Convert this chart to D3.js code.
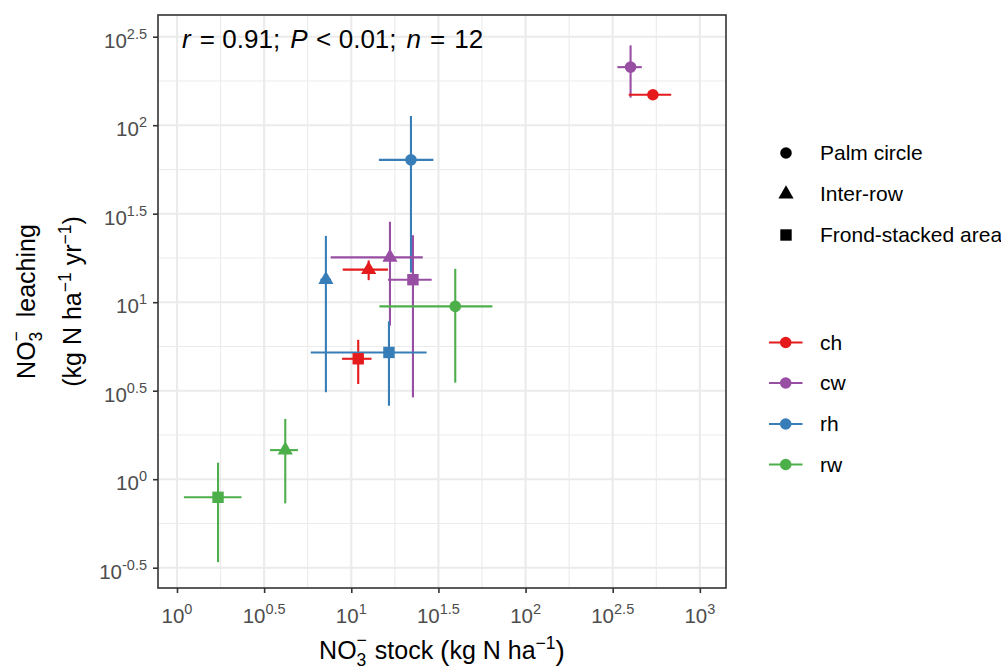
<!DOCTYPE html>
<html>
<head>
<meta charset="utf-8">
<script src="https://cdn.jsdelivr.net/npm/d3@7"></script>
<style>
  body { margin: 0; background: #ffffff; }
  svg { display: block; }
  text { font-family: "Liberation Sans", Arial, sans-serif; white-space: pre; }
</style>
</head>
<body>
<svg id="chart" width="1001" height="669"></svg>
<script>
// Land-use groups and their colours
const landUses = ["ch", "cw", "rh", "rw"];
const landUseColours = ["#E41A1C", "#984EA3", "#377EB8", "#4DAF4A"];

// Sampling positions (marker shapes)
const positions = ["Palm circle", "Inter-row", "Frond-stacked area"];

// One entry per land use x position: mean and standard error
const pointLandUse = ["ch", "cw", "rh", "rw", "ch", "cw", "rh", "rw", "ch", "cw", "rh", "rw"];
const pointPosition = [
  "Palm circle", "Palm circle", "Palm circle", "Palm circle",
  "Inter-row", "Inter-row", "Inter-row", "Inter-row",
  "Frond-stacked area", "Frond-stacked area", "Frond-stacked area", "Frond-stacked area"
];
const stockMean = [537.7, 400.4, 22.0, 39.5, 12.58, 16.67, 7.15, 4.18, 10.96, 22.58, 16.45, 1.72];
const stockSE   = [147, 64, 7.6, 25, 3.65, 9.05, 0.5, 0.76, 2.1, 6.35, 10.6, 0.625];
const leachMean = [148.6, 212.8, 63.7, 9.47, 15.27, 17.92, 13.4, 1.46, 4.79, 13.4, 5.20, 0.79];
const leachSE   = [4, 69.7, 49, 5.96, 1.95, 10.55, 10.3, 0.73, 1.34, 10.5, 2.6, 0.45];

// Axis breaks, written as powers of ten
const xTickExponents = ["0", "0.5", "1", "1.5", "2", "2.5", "3"];
const yTickExponents = ["-0.5", "0", "0.5", "1", "1.5", "2", "2.5"];

// Correlation summary
const statR = "0.91", statP = "0.01", statN = "12";

const svg = d3.select("#chart");
const panel = { left: 158, top: 15, right: 726, bottom: 588 };

const x = d3.scaleLog().domain([Math.pow(10, -0.109), Math.pow(10, 3.15)]).range([panel.left, panel.right]);
const y = d3.scaleLog().domain([Math.pow(10, -0.6147), Math.pow(10, 2.6226)]).range([panel.bottom, panel.top]);

const colour = d3.scaleOrdinal().domain(landUses).range(landUseColours);
const shapeOf = d3.scaleOrdinal().domain(positions).range([d3.symbolCircle, d3.symbolTriangle, d3.symbolSquare]);
const sizeOf = d3.scaleOrdinal().domain(positions).range([105, 100, 130]);

const xMajor = xTickExponents.map(e => Math.pow(10, +e));
const yMajor = yTickExponents.map(e => Math.pow(10, +e));
const midpoints = arr => {
  const out = [];
  for (let i = 0; i < arr.length - 1; i++) out.push(Math.sqrt(arr[i] * arr[i + 1]));
  return out;
};

// Rich text as a single <text> made of positioned tspans (sub/superscripts)
function richText(parent, parts, baseSize, fill) {
  const t = parent.append("text").attr("fill", fill).attr("font-size", baseSize);
  let cx = 0, lastStart = 0;
  parts.forEach(p => {
    const start = p.stack ? lastStart : cx + (p.gap || 0);
    const s = t.append("tspan")
      .attr("x", start)
      .attr("y", p.dy || 0)
      .attr("font-size", p.size || baseSize)
      .text(p.t);
    if (p.italic) s.attr("font-style", "italic");
    const w = s.node().getComputedTextLength();
    if (p.stack) {
      cx = Math.max(cx, start + w);
    } else {
      lastStart = start;
      cx = start + w;
    }
  });
  return { g: t, width: cx };
}

// Panel background grid
const grid = svg.append("g");
const yMinor = midpoints(yMajor).concat([Math.pow(10, -0.75), Math.pow(10, 2.75)])
  .filter(d => y(d) >= panel.top && y(d) <= panel.bottom);
grid.selectAll("line.xminor").data(midpoints(xMajor)).join("line")
  .attr("x1", d => x(d)).attr("x2", d => x(d))
  .attr("y1", panel.top).attr("y2", panel.bottom)
  .attr("stroke", "#ebebeb").attr("stroke-width", 1.1);
grid.selectAll("line.yminor").data(yMinor).join("line")
  .attr("y1", d => y(d)).attr("y2", d => y(d))
  .attr("x1", panel.left).attr("x2", panel.right)
  .attr("stroke", "#ebebeb").attr("stroke-width", 1.1);
grid.selectAll("line.xmajor").data(xMajor).join("line")
  .attr("x1", d => x(d)).attr("x2", d => x(d))
  .attr("y1", panel.top).attr("y2", panel.bottom)
  .attr("stroke", "#ebebeb").attr("stroke-width", 2.1);
grid.selectAll("line.ymajor").data(yMajor).join("line")
  .attr("y1", d => y(d)).attr("y2", d => y(d))
  .attr("x1", panel.left).attr("x2", panel.right)
  .attr("stroke", "#ebebeb").attr("stroke-width", 2.1);

// Data records
const data = pointLandUse.map((lu, i) => ({
  landUse: lu,
  position: pointPosition[i],
  sx: stockMean[i], sxe: stockSE[i],
  ly: leachMean[i], lye: leachSE[i]
}));

const marks = svg.append("g");
// vertical error bars (leaching)
marks.selectAll("line.ev").data(data).join("line")
  .attr("x1", d => x(d.sx)).attr("x2", d => x(d.sx))
  .attr("y1", d => y(d.ly - d.lye)).attr("y2", d => y(d.ly + d.lye))
  .attr("stroke", d => colour(d.landUse)).attr("stroke-width", 2.1);
// horizontal error bars (stock)
marks.selectAll("line.eh").data(data).join("line")
  .attr("y1", d => y(d.ly)).attr("y2", d => y(d.ly))
  .attr("x1", d => x(d.sx - d.sxe)).attr("x2", d => x(d.sx + d.sxe))
  .attr("stroke", d => colour(d.landUse)).attr("stroke-width", 2.1);
// points
marks.selectAll("path.pt").data(data).join("path")
  .attr("transform", d => `translate(${x(d.sx)},${y(d.ly)})`)
  .attr("d", d => d3.symbol().type(shapeOf(d.position)).size(sizeOf(d.position))())
  .attr("fill", d => colour(d.landUse));

// Panel border
svg.append("rect")
  .attr("x", panel.left).attr("y", panel.top)
  .attr("width", panel.right - panel.left).attr("height", panel.bottom - panel.top)
  .attr("fill", "none").attr("stroke", "#333333").attr("stroke-width", 1.6);

// Axes (ticks only; labels drawn as powers of ten below)
const xAxis = svg.append("g").attr("transform", `translate(0,${panel.bottom})`)
  .call(d3.axisBottom(x).tickValues(xMajor).tickSize(5).tickSizeOuter(0).tickFormat(""));
const yAxis = svg.append("g").attr("transform", `translate(${panel.left},0)`)
  .call(d3.axisLeft(y).tickValues(yMajor).tickSize(5).tickSizeOuter(0).tickFormat(""));
[xAxis, yAxis].forEach(a => {
  a.select(".domain").remove();
  a.selectAll(".tick line").attr("stroke", "#333333").attr("stroke-width", 1.6);
});

const tickGrey = "#4d4d4d";
xTickExponents.forEach((e, i) => {
  const r = richText(svg, [{ t: "10" }, { t: e, size: 14.5, dy: -9 }], 20.5, tickGrey);
  r.g.attr("transform", `translate(${x(xMajor[i]) - r.width / 2},${623})`);
});
yTickExponents.forEach((e, i) => {
  const r = richText(svg, [{ t: "10" }, { t: e, size: 14.5, dy: -9 }], 20.5, tickGrey);
  r.g.attr("transform", `translate(${147 - r.width},${y(yMajor[i]) + 11})`);
});

// Axis titles
const xt = richText(svg, [
  { t: "NO" }, { t: "3", size: 17.5, dy: 7 }, { t: "\u2212", size: 17.5, dy: -13, stack: true },
  { t: " stock ", gap: 1 }, { t: "(", size: 28, dy: 1 }, { t: "kg N ha" },
  { t: "\u22121", size: 17.5, dy: -10 }, { t: ")", size: 28, dy: 1 }
], 25, "#000");
xt.g.attr("transform", `translate(${(panel.left + panel.right) / 2 - xt.width / 2},659)`);

const yMid = (panel.top + panel.bottom) / 2;
const yt1 = richText(svg, [
  { t: "NO" }, { t: "3", size: 17.5, dy: 7 }, { t: "\u2212", size: 17.5, dy: -13, stack: true },
  { t: "\u00a0\u00a0leaching" }
], 25, "#000");
yt1.g.attr("transform", `translate(35,${yMid}) rotate(-90) translate(${-yt1.width / 2},0)`);

const yt2 = richText(svg, [
  { t: "(kg N ha" }, { t: "\u22121", size: 17.5, dy: -10 }, { t: " yr" },
  { t: "\u22121", size: 17.5, dy: -10 }, { t: ")" }
], 25, "#000");
yt2.g.attr("transform", `translate(81,${yMid}) rotate(-90) translate(${-yt2.width / 2},0)`);

// Correlation annotation
const ann = richText(svg, [
  { t: "r", italic: true }, { t: "=", gap: 9 }, { t: statR + ";", gap: 7.5 },
  { t: "P", italic: true, gap: 10 }, { t: "<", gap: 8.5 }, { t: statP + ";", gap: 7.5 },
  { t: "n", italic: true, gap: 10 }, { t: "=", gap: 9 }, { t: statN, gap: 9 }
], 26, "#000");
ann.g.attr("transform", `translate(182,48)`);

// Legend: sampling position (shape)
const shapeLegendY = [153, 194, 235];
positions.forEach((p, i) => {
  svg.append("path")
    .attr("transform", `translate(786,${shapeLegendY[i]})`)
    .attr("d", d3.symbol().type(shapeOf(p)).size(sizeOf(p))())
    .attr("fill", "#000");
  svg.append("text").attr("x", 820).attr("y", shapeLegendY[i]).attr("dy", "0.35em")
    .attr("font-size", 21).attr("fill", "#000").text(p);
});

// Legend: land use (colour)
const colourLegendY = [342.5, 383, 424, 464.5];
landUses.forEach((lu, i) => {
  const cy = colourLegendY[i];
  svg.append("line").attr("x1", 769).attr("x2", 802.5).attr("y1", cy).attr("y2", cy)
    .attr("stroke", colour(lu)).attr("stroke-width", 2.1);
  svg.append("path").attr("transform", `translate(785.7,${cy})`)
    .attr("d", d3.symbol().type(d3.symbolCircle).size(105)())
    .attr("fill", colour(lu));
  svg.append("text").attr("x", 820).attr("y", cy).attr("dy", "0.35em")
    .attr("font-size", 21).attr("fill", "#000").text(lu);
});
</script>
</body>
</html>
